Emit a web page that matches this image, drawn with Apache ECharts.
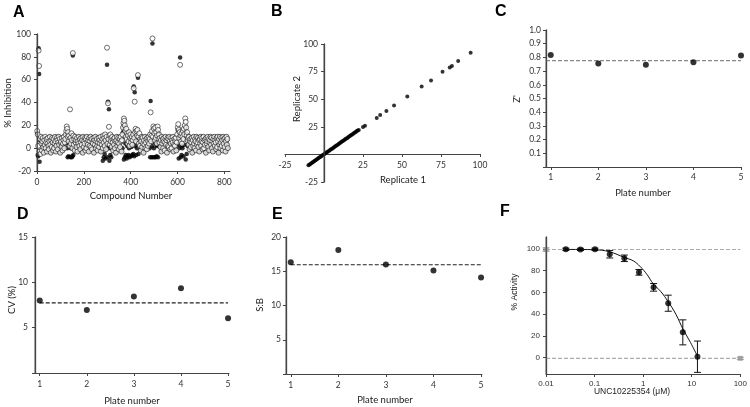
<!DOCTYPE html>
<html><head><meta charset="utf-8">
<script src="https://cdn.jsdelivr.net/npm/echarts@6/dist/echarts.min.js"></script>
<style>html,body{margin:0;padding:0;background:#fff}#c{width:750px;height:407px}</style>
</head><body><div id="c"></div>
<script>
// ---------- Panel A: % inhibition per compound (compound numbers 1, 3, 5, ...) ----------
const aTicks = [0, 200, 400, 600, 800];
const aStep = 2;
const aRep1 = [
 13, -6, -7, 87.5, 65, -12, 7, -3, 9, 4,
 -2, 6, 9, 1, -4, 7, 3, 9, 0, 5,
 8, -3, 4, 9, 2, -1, 6, 10, 3, -4,
 7, 1, 9, 5, -2, 8, 0, 4, 10, 6,
 -3, 2, 9, 7, -1, 5, 10, 3, 8, -4,
 4, 6, 1, 9, -2, 4, 7, 10, 0, 5,
 8, 10, 4, 12, 0, -8, 5, -7, 9, 2,
 11, -8, 0, 6, -8, -7, 81.2, -6, 3, 8,
 -2, 10, 5, 7, 1, 9, -3, 6, 4, 10,
 2, 8, -1, 5, 9, 3, 7, -4, 10, 1,
 6, 4, 9, -2, 8, 0, 10, 5, 3, 7,
 -3, 9, 2, 6, 10, 1, 8, -1, 5, 4,
 9, -4, 7, 3, 10, 0, 6, 8, 2, -2,
 5, 9, 1, 7, 4, 10, -3, 6, 3, 8,
 -11, 2, -8, 0, -5, 6, -9, -1, 3, 73,
 -8, 40.7, 2, 34, -11, 0, -6, 5, -8, 1,
 10, 5, -2, 8, 3, 9, 0, 6, -4, 7,
 10, 2, 5, 9, -1, 4, 8, 1, 10, 6,
 -3, 7, 0, 14, 18, -10, 20, -8, 4, -6,
 12, -9, 2, -7, 8, -6, 0, -8, 6, 3,
 -7, 1, 8, -6, 4, -5, 54, -7, 49, 2,
 12, -6, 9, 0, 6, 61.6, -5, 3, 8, 2,
 8, -2, 6, 10, 1, 9, 4, -4, 7, 3,
 10, 0, 5, 8, -1, 9, 2, 6, 10, 4,
 0, -8, 41.3, 6, -8, 2, 91.7, -8, 12, 0,
 -8, 5, 10, -8, 3, -7, 2, 14, -8, 6,
 12, 5, 9, 1, 7, -3, 10, 4, 8, 0,
 6, 9, -2, 5, 10, 3, 7, -4, 9, 2,
 8, 1, 10, 6, -1, 4, 9, 0, 7, 5,
 10, -3, 3, 8, 2, 6, 9, -2, 5, 10,
 16, 3, -9, 0, 12, 79.4, -8, 5, -6, 2,
 0, 14, -7, 10, 3, 16, 18, -10, 8, -5,
 12, 2, 9, 3, 10, -1, 6, 8, 1, 5,
 9, -4, 7, 2, 10, 4, 0, 8, 6, -2,
 10, 3, 5, 9, 1, 7, -3, 8, 4, 10,
 2, 6, 9, -1, 5, 10, 0, 7, 3, 8,
 -4, 9, 4, 6, 10, 1, 8, -2, 5, 7,
 10, 3, 9, 0, 6, -3, 8, 4, 10, 2,
 7, 5, -1, 9, 1, 10, 6, -4, 8, 3,
 10, 0, 5, 9, 2, 7, -2, 10, 4, 8,
 1, 9, -3, 6, 10, 3, 8, 0
];
const aRep2 = [
 15, 12, 2, 85.5, 72, -3, 8, -5, 10, 4,
 -2, 6, 9, 1, -4, 7, 3, 10, 0, 5,
 8, -3, 4, 9, 2, -1, 6, 10, 3, -4,
 7, 1, 9, 5, -2, 8, 0, 4, 10, 6,
 -3, 2, 9, 7, -1, 5, 10, 3, 8, -4,
 5, 6, 1, 9, -2, 4, 7, 10, 0, 5,
 8, 12, 15, 19, 17, 10, 14, 6, 11, 2,
 34, 9, 4, 13, 7, 0, 83.3, 11, 3, 8,
 -2, 10, 5, 7, 1, 9, -3, 6, 4, 10,
 2, 8, -1, 5, 9, 3, 7, -4, 10, 1,
 6, 4, 9, -2, 8, 0, 10, 5, 3, 7,
 -3, 9, 2, 6, 10, 1, 8, -1, 5, 4,
 9, -4, 7, 3, 10, 0, 6, 8, 2, -2,
 5, 9, 1, 7, 4, 10, -3, 6, 3, 8,
 0, 11, 5, 9, 2, 12, 7, -1, 10, 88,
 4, 39.3, 8, 18.7, 11, 3, 12, 6, 9, 1,
 10, 5, -2, 8, 3, 9, 0, 6, -4, 7,
 10, 2, 5, 9, -1, 4, 8, 1, 10, 6,
 -3, 7, 12, 18, 22, 26, 24, 20, 15, 10,
 17, 8, 13, 4, 11, 6, 14, 2, 9, 12,
 5, 8, 10, 3, 7, 12, 52.5, 9, 40.7, 14,
 17, 6, 15, 11, 16, 64, 10, 4, 13, 2,
 8, -2, 6, 10, 1, 9, 4, -4, 7, 3,
 10, 0, 5, 8, -1, 9, 2, 6, 10, 4,
 8, 12, 31.4, 6, 11, 15, 96.1, 10, 19, 17,
 13, 7, 18, 9, 14, 4, 11, 19, 16, 8,
 12, 5, 9, 1, 7, -3, 10, 4, 8, 0,
 6, 9, -2, 5, 10, 3, 7, -4, 9, 2,
 8, 1, 10, 6, -1, 4, 9, 0, 7, 5,
 10, -3, 3, 8, 2, 6, 9, -2, 5, 12,
 18, 21, 16, 9, 14, 73, 11, 6, 13, 4,
 10, 15, 8, 17, 12, 20, 26, 23, 18, 11,
 14, 7, 9, 3, 10, -1, 6, 8, 1, 5,
 9, -4, 7, 2, 10, 4, 0, 8, 6, -2,
 10, 3, 5, 9, 1, 7, -3, 8, 4, 10,
 2, 6, 9, -1, 5, 10, 0, 7, 3, 8,
 -4, 9, 4, 6, 10, 1, 8, -2, 5, 7,
 10, 3, 9, 0, 6, -3, 8, 4, 10, 2,
 7, 5, -1, 9, 1, 10, 6, -4, 8, 3,
 10, 0, 5, 9, 2, 7, -2, 10, 4, 8,
 1, 9, -3, 6, 10, 3, 8, 0
];

// ---------- Panel B: replicate 1 vs replicate 2 ----------
const bTicks = [-25, 25, 50, 75, 100];
const bRep1 = [-10,-9.4,-8.8,-8.1,-7.5,-6.9,-6.2,-5.6,-5.0,-4.3,-3.7,-3.1,-2.4,-1.8,-1.2,-0.5,0.1,0.7,1.4,2.0,2.6,3.3,3.9,4.5,5.2,5.8,6.4,7.1,7.7,8.3,9.0,9.6,10.2,10.9,11.5,12.1,12.8,13.4,14.0,14.7,15.3,15.9,16.6,17.2,17.8,18.5,19.1,19.7,20.4,21.0,21.6,22.3,
  25,26.3,33.8,36,40,44.9,53.4,62.6,68.6,76,80.6,82,86,94];
const bRep2 = [-9.8,-9.3,-8.6,-8.0,-7.3,-6.8,-6.0,-5.5,-4.8,-4.2,-3.5,-2.9,-2.3,-1.7,-1.0,-0.4,0.2,0.8,1.4,2.1,2.7,3.3,4.0,4.6,5.2,5.9,6.5,7.1,7.8,8.4,9.0,9.7,10.3,10.9,11.6,12.2,12.8,13.5,14.1,14.7,15.4,16.0,16.6,17.3,17.9,18.5,19.2,19.8,20.4,21.1,21.7,22.2,
  24.8,26,33,35.7,39.4,44.2,52.4,61.5,67,74.8,78.8,80,84.5,92];

// ---------- Panels C, D, E: per-plate statistics ----------
const plates = [1, 2, 3, 4, 5];
const zPrime = [0.818, 0.755, 0.747, 0.764, 0.813];
const zPrimeMean = 0.776;
const cv = [7.99, 6.96, 8.43, 9.36, 6.04];
const cvMean = 7.73;
const sb = [16.3, 18.1, 16.0, 15.1, 14.1];
const sbMean = 15.95;

// ---------- Panel F: dose response ----------
const fConc = [0.0256, 0.0512, 0.102, 0.205, 0.41, 0.82, 1.64, 3.28, 6.55, 13.1];
const fAct  = [99.7, 99.6, 99.7, 95.1, 91.4, 78.5, 64.7, 50.1, 23.3, 0.9];
const fErr  = [1, 1, 1, 3.4, 3, 2.6, 3.5, 7.4, 11.5, 14.4];
const fCurveX = [0.0256, 0.05, 0.1, 0.2, 0.42, 0.63, 0.86, 1.2, 1.61, 2.29, 3.27, 4.71, 6.65, 9.42, 12.9];
const fCurveY = [99.6, 99.5, 99.3, 97.5, 92, 89, 84, 76.5, 68, 61, 51.5, 40, 26, 14, 2];
const fCtrlX = [0.01, 100];
const fCtrlY = [99.5, -0.6];
const fCtrlErr = [1.5, 1];
const fXTicks = [0.01, 0.1, 1, 10, 100];
const fYTicks = [0, 20, 40, 60, 80, 100];

// ---------- build ----------
const AX = '#444';
function axis(extra, labelExtra, tickValues, lineWidth) {
  const o = Object.assign({
    type: 'value',
    splitLine: {show: false},
    axisLine: {show: true, onZero: false, lineStyle: {color: AX, width: lineWidth || 1}},
    axisTick: {show: true, length: 3, lineStyle: {color: AX, width: 1}},
    axisLabel: Object.assign({fontFamily: 'Lato', fontSize: 8.5, color: '#333'}, labelExtra || {})
  }, extra);
  if (tickValues) {
    o.axisTick.customValues = tickValues;
    o.axisLabel.customValues = tickValues;
  }
  return o;
}
const hideZero = v => (v === 0 ? '' : String(v));

const grids = [
  {left: 37, top: 34, width: 193, height: 137},
  {left: 285, top: 44, width: 195, height: 138},
  {left: 546, top: 30, width: 195, height: 137},
  {left: 35, top: 237, width: 194, height: 136},
  {left: 286, top: 237, width: 196, height: 137},
  {left: 546, top: 237, width: 195, height: 137}
];

const xAxes = [
  axis({gridIndex: 0, min: 0, max: 824, position: 'bottom'}, {margin: 7}, aTicks),
  axis({gridIndex: 1, min: -25, max: 100, position: 'bottom', offset: -28}, {margin: 7}, bTicks),
  axis({gridIndex: 2, min: 0.9, max: 5, position: 'bottom'}, {margin: 6}, plates),
  axis({gridIndex: 3, min: 0.9, max: 5.02, position: 'bottom'}, {margin: 7}, plates),
  axis({gridIndex: 4, min: 0.9, max: 5.02, position: 'bottom'}, {margin: 7}, plates),
  axis({gridIndex: 5, type: 'log', logBase: 10, min: 0.01, max: 100, position: 'bottom'},
       {fontFamily: 'Liberation Sans', fontSize: 8, margin: 6, formatter: v => String(v)}, fXTicks)
];
const YW = 1.3;
const yAxes = [
  axis({gridIndex: 0, min: -20, max: 100, interval: 20, position: 'left'}, {margin: 6}, null, YW),
  axis({gridIndex: 1, min: -25, max: 100, position: 'left', offset: -39}, {margin: 6}, bTicks, YW),
  axis({gridIndex: 2, min: 0, max: 1, interval: 0.1, position: 'left'},
       {formatter: v => (v === 0 ? '' : v.toFixed(1)), margin: 5}, null, YW),
  axis({gridIndex: 3, min: 0, max: 15, interval: 5, position: 'left'}, {formatter: hideZero, margin: 7}, null, YW),
  axis({gridIndex: 4, min: 0, max: 20, interval: 5, position: 'left'}, {formatter: hideZero, margin: 5}, null, YW),
  axis({gridIndex: 5, min: -15, max: 111, position: 'left'},
       {fontFamily: 'Liberation Sans', fontSize: 8, margin: 6}, fYTicks, YW)
];
// vertical axis frame: [x where the y axis sits, y from, y to] for each panel
const yAxisFrame = [[0, -20, 100], [0, -25, 100], [0.9, 0, 1], [0.9, 0, 15], [0.9, 0, 20], [0.01, -15, 111]];
function yAxisLine(xi) {
  return {
    type: 'custom', xAxisIndex: xi, yAxisIndex: xi, clip: false, silent: true, z: 6,
    data: [yAxisFrame[xi]],
    renderItem: function (params, api) {
      const a = api.coord([api.value(0), api.value(1)]), b = api.coord([api.value(0), api.value(2)]);
      const x = a[0] + 0.2;
      return {type: 'line', shape: {x1: x, y1: a[1], x2: x, y2: b[1]}, style: {stroke: AX, lineWidth: 1.2}};
    }
  };
}

const dots = (xi, size) => ({type: 'scatter', xAxisIndex: xi, yAxisIndex: xi, symbolSize: size,
  itemStyle: {color: '#000'}, clip: false, silent: true});

function errorBars(xi, data, color) {
  return {
    type: 'custom', xAxisIndex: xi, yAxisIndex: xi, clip: false, silent: true, z: 3,
    data: data,
    renderItem: function (params, api) {
      const x = api.value(0), y = api.value(1), e = api.value(2);
      const t = api.coord([x, y + e]), b = api.coord([x, y - e]);
      const hw = 3.5, st = {stroke: color, lineWidth: 1};
      return {type: 'group', children: [
        {type: 'line', shape: {x1: t[0], y1: t[1], x2: b[0], y2: b[1]}, style: st},
        {type: 'line', shape: {x1: t[0] - hw, y1: t[1], x2: t[0] + hw, y2: t[1]}, style: st},
        {type: 'line', shape: {x1: b[0] - hw, y1: b[1], x2: b[0] + hw, y2: b[1]}, style: st}
      ]};
    }
  };
}
function hLine(xi, x0, x1, y, color) {
  return {type: 'line', xAxisIndex: xi, yAxisIndex: xi, data: [[x0, y], [x1, y]], showSymbol: false,
    symbol: 'none', silent: true, z: 1,
    lineStyle: {color: color, width: 1.2, type: [4, 2]}};
}

const series = [
  Object.assign(dots(0, 4.5), {data: aRep1.map((v, i) => [1 + aStep * i, v])}),
  Object.assign(dots(0, 5), {data: aRep2.map((v, i) => [1 + aStep * i, v]),
    itemStyle: {color: '#fff', borderColor: '#000', borderWidth: 0.7}}),
  Object.assign(dots(1, 4), {data: bRep1.map((v, i) => [v, bRep2[i]])}),
  hLine(2, 0.9, 5, zPrimeMean, '#888'),
  Object.assign(dots(2, 6), {data: plates.map((p, i) => [p, zPrime[i]]), z: 3}),
  hLine(3, 1, 5, cvMean, '#222'),
  Object.assign(dots(3, 6), {data: plates.map((p, i) => [p, cv[i]]), z: 3}),
  hLine(4, 1, 5, sbMean, '#222'),
  Object.assign(dots(4, 6), {data: plates.map((p, i) => [p, sb[i]]), z: 3}),
  hLine(5, 0.01, 100, fCtrlY[0], '#aaa'),
  hLine(5, 0.01, 100, fCtrlY[1], '#aaa'),
  {type: 'line', xAxisIndex: 5, yAxisIndex: 5, data: fCurveX.map((x, i) => [x, fCurveY[i]]),
    smooth: 0.4, showSymbol: false, symbol: 'none', silent: true, z: 2,
    lineStyle: {color: '#111', width: 1}},
  errorBars(5, fConc.map((x, i) => [x, fAct[i], fErr[i]]), '#111'),
  Object.assign(dots(5, 6), {data: fConc.map((x, i) => [x, fAct[i]]), z: 4}),
  errorBars(5, fCtrlX.map((x, i) => [x, fCtrlY[i], fCtrlErr[i]]), '#999'),
  Object.assign(dots(5, 5), {data: fCtrlX.map((x, i) => [x, fCtrlY[i]]),
    symbol: 'rect', itemStyle: {color: '#999'}, z: 4}),
  yAxisLine(0), yAxisLine(1), yAxisLine(2), yAxisLine(3), yAxisLine(4), yAxisLine(5)
];

const nameFont = '9.5px Lato';
const fNameFont = '8.5px "Liberation Sans"';
function txt(text, x, y, font, rot) {
  return {type: 'text', x: x, y: y, rotation: rot ? Math.PI / 2 : 0, silent: true,
    style: {text: text, font: font, fill: '#222', align: 'center', verticalAlign: 'middle',
      textAlign: 'center', textVerticalAlign: 'middle'}};
}
function letter(text, x, y) {
  return {type: 'text', x: x, y: y, silent: true,
    style: {text: text, font: 'bold 16px "Liberation Sans"', fill: '#000', align: 'left', verticalAlign: 'middle',
      textAlign: 'left', textVerticalAlign: 'middle'}};
}
const graphic = [
  letter('A', 13, 13), letter('B', 271, 12), letter('C', 495, 12),
  letter('D', 17, 215), letter('E', 272, 215), letter('F', 500, 212),
  txt('% Inhibition', 8, 103, nameFont, true),
  txt('Compound Number', 131, 196, nameFont),
  txt('Replicate 2', 297, 99, nameFont, true),
  txt('Replicate 1', 403, 180, nameFont),
  txt("Z'", 517, 99, nameFont, true),
  txt('Plate number', 643, 193, nameFont),
  txt('CV (%)', 12, 300, nameFont, true),
  txt('Plate number', 132, 401, nameFont),
  txt('S:B', 260, 305, nameFont, true),
  txt('Plate number', 385, 400, nameFont),
  txt('% Activity', 515, 292, fNameFont, true),
  txt('UNC10225354 (\u03bcM)', 632, 392, fNameFont)
];

const chart = echarts.init(document.getElementById('c'), null, {renderer: 'canvas'});
chart.setOption({
  animation: false,
  backgroundColor: '#fff',
  grid: grids,
  xAxis: xAxes,
  yAxis: yAxes,
  series: series,
  graphic: graphic
});
</script>
</body></html>
